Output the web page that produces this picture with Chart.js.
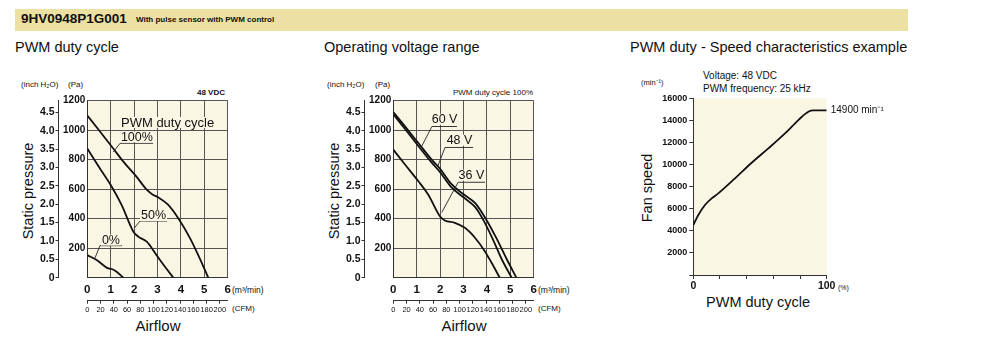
<!DOCTYPE html>
<html>
<head>
<meta charset="utf-8">
<script src="https://cdn.jsdelivr.net/npm/chart.js@4.4.1/dist/chart.umd.min.js"></script>
<style>
body { margin: 0; width: 1000px; height: 345px; position: relative; overflow: hidden; background: #fff;
       font-family: 'Liberation Sans', Arial, sans-serif; color: #111; }
.t { position: absolute; white-space: nowrap; line-height: 1; transform: translateY(-50%); }
.c { transform: translate(-50%, -50%); }
.r { transform: translate(-100%, -50%); }
.v { transform: translate(-50%, -50%) rotate(-90deg); }
canvas { position: absolute; }
.band { position: absolute; left: 15px; top: 9px; width: 893px; height: 22px; background: #ece0a2; }
</style>
</head>
<body>
<div class="band"></div>
<div class="t" style="left:21px;top:19px;font-size:13.5px;font-weight:bold">9HV0948P1G001</div>
<div class="t" style="left:136px;top:20px;font-size:8px;font-weight:bold">With pulse sensor with PWM control</div>

<div class="t" style="left:15px;top:47px;font-size:14.5px">PWM duty cycle</div>
<div class="t" style="left:324px;top:47px;font-size:14.5px">Operating voltage range</div>
<div class="t" style="left:630px;top:47px;font-size:14.5px">PWM duty - Speed characteristics example</div>

<!-- chart 1 texts -->
<div class="t" style="left:21px;top:85px;font-size:8px">(inch H₂O)</div>
<div class="t" style="left:68px;top:85px;font-size:8px">(Pa)</div>
<div class="t r" style="left:225px;top:93px;font-size:8px;font-weight:bold">48 VDC</div>
<div class="t v" style="left:28px;top:191px;font-size:14.5px">Static pressure</div>
<div class="t" style="left:232px;top:290px;font-size:8.5px">(m³/min)</div>
<div class="t" style="left:232px;top:309px;font-size:8px">(CFM)</div>
<div class="t c" style="left:158px;top:325px;font-size:15px">Airflow</div>

<!-- chart 2 texts -->
<div class="t" style="left:327px;top:85px;font-size:8px">(inch H₂O)</div>
<div class="t" style="left:375px;top:85px;font-size:8px">(Pa)</div>
<div class="t r" style="left:533px;top:93px;font-size:8px">PWM duty cycle 100%</div>
<div class="t v" style="left:334px;top:191px;font-size:14.5px">Static pressure</div>
<div class="t" style="left:538px;top:290px;font-size:8.5px">(m³/min)</div>
<div class="t" style="left:538px;top:309px;font-size:8px">(CFM)</div>
<div class="t c" style="left:464px;top:325px;font-size:15px">Airflow</div>

<!-- chart 3 texts -->
<div class="t" style="left:641px;top:83px;font-size:7.5px">(min⁻¹)</div>
<div class="t" style="left:703px;top:76px;font-size:10px">Voltage: 48 VDC</div>
<div class="t" style="left:703px;top:89px;font-size:10px">PWM frequency: 25 kHz</div>
<div class="t v" style="left:647px;top:188px;font-size:14.5px">Fan speed</div>
<div class="t" style="left:838px;top:287px;font-size:7px">(%)</div>
<div class="t c" style="left:758px;top:302px;font-size:14.5px">PWM duty cycle</div>

<canvas id="dutyChart" width="290" height="255" style="left:0px;top:90px"></canvas>
<canvas id="voltChart" width="290" height="255" style="left:306px;top:90px"></canvas>
<canvas id="speedChart" width="300" height="255" style="left:600px;top:90px"></canvas>

<script>
// --- Data ---
const M3_TO_CFM = 35.3147;
const PA_PER_INCH = 249.089;

// PWM duty cycle (48 VDC): airflow m3/min vs static pressure Pa
const flowDuty100 = [0, 0.5, 1.1, 1.55, 2.1, 2.55, 2.8, 3.0, 3.45, 3.9, 4.4, 4.8, 5.17];
const presDuty100 = [1100, 1000, 878, 785, 685, 595, 563, 548, 495, 400, 265, 132, 0];
const flowDuty50 = [0, 0.54, 1.0, 1.47, 1.97, 2.18, 2.54, 2.96, 3.32, 3.68];
const presDuty50 = [876, 740, 628, 492, 312, 278, 244, 153, 74, 0];
const flowDuty0 = [0, 0.4, 0.9, 1.04, 1.25, 1.54];
const presDuty0 = [153, 120, 63, 59, 41, 0];

// Operating voltage range (PWM 100%)
const flow60V = [0, 0.5, 1.07, 1.64, 2.0, 2.5, 3.0, 3.5, 3.95, 4.4, 4.85, 5.26];
const pres60V = [1123, 1026, 913, 800, 738, 632, 566, 505, 400, 270, 125, 0];
const flow48V = [0, 0.5, 1.07, 1.64, 2.0, 2.5, 3.0, 3.5, 3.85, 4.25, 4.65, 5.06];
const pres48V = [1108, 1008, 893, 780, 715, 610, 545, 478, 390, 262, 120, 0];
const flow36V = [0, 0.5, 1.07, 1.49, 1.99, 2.2, 2.63, 3.06, 3.49, 3.91, 4.2, 4.55];
const pres36V = [868, 767, 654, 564, 417, 388, 372, 338, 271, 180, 101, 0];

// PWM duty - speed
const dutyPct = [0, 3.75, 8.75, 13.75, 18.75, 31.25, 43.75, 56.25, 68.75, 78.75, 86.25, 90, 100];
const fanSpeed = [4525, 5430, 6335, 6938, 7390, 8748, 10166, 11463, 12820, 14027, 14781, 14900, 14900];

const SANS = "'Liberation Sans', Arial, sans-serif";
const CREAM = '#faf6e4';
const GRID = '#555';

const pts = (xs, ys) => xs.map((x, i) => ({ x, y: ys[i] }));

// cream plot area + leader lines and curve labels
const calloutPlugin = {
    id: 'callouts',
    beforeDraw(chart) {
        const { ctx, chartArea: a } = chart;
        ctx.save();
        ctx.fillStyle = CREAM;
        ctx.fillRect(a.left, a.top, a.right - a.left, a.bottom - a.top);
        ctx.restore();
    },
    afterDatasetsDraw(chart, args, opts) {
        const { ctx, scales: { x, y } } = chart;
        ctx.save();
        ctx.strokeStyle = '#222';
        ctx.lineWidth = 0.9;
        (opts.leaders || []).forEach(line => {
            ctx.beginPath();
            line.forEach(([a, b], i) => {
                const px = x.getPixelForValue(a), py = y.getPixelForValue(b);
                i ? ctx.lineTo(px, py) : ctx.moveTo(px, py);
            });
            ctx.stroke();
        });
        (opts.labels || []).forEach(l => {
            ctx.font = l.font;
            ctx.textAlign = l.align || 'center';
            ctx.textBaseline = 'middle';
            const px = x.getPixelForValue(l.x) + (l.dx || 0), py = y.getPixelForValue(l.y);
            if (l.box) {
                const w = ctx.measureText(l.text).width;
                const left = l.align === 'left' ? px : px - w / 2;
                ctx.fillStyle = CREAM;
                ctx.fillRect(left - 1, py - 6, w + 2, 11);
            }
            ctx.fillStyle = '#111';
            ctx.fillText(l.text, px, py);
        });
        ctx.restore();
    }
};

function pressureChart(id, series, callouts) {
    return new Chart(document.getElementById(id), {
        type: 'line',
        data: {
            datasets: series.map(s => ({
                data: pts(s[0], s[1]),
                borderColor: '#111',
                borderWidth: 1.8,
                pointRadius: 0,
                fill: false,
                cubicInterpolationMode: 'monotone'
            }))
        },
        options: {
            responsive: false,
            animation: false,
            layout: { padding: { left: 10, top: 10.7, right: 62.3, bottom: 14.3 } },
            plugins: { legend: { display: false }, tooltip: { enabled: false }, callouts },
            scales: {
                x: {
                    type: 'linear', min: 0, max: 6,
                    ticks: { stepSize: 1, color: '#111', padding: 5, maxRotation: 0,
                             font: { family: SANS, size: 11.5, weight: 'bold' } },
                    grid: { color: GRID, drawTicks: false },
                    border: { color: '#333' },
                    afterFit: s => { s.height = 23; }
                },
                xCfm: {
                    type: 'linear', position: 'bottom', min: 0, max: 6 * M3_TO_CFM,
                    ticks: { stepSize: 20, includeBounds: false, autoSkip: false, maxRotation: 0, minRotation: 0,
                             color: '#111', padding: 2, font: { family: SANS, size: 7.5 } },
                    grid: { drawOnChartArea: false, tickLength: 3, color: '#333' },
                    border: { color: '#333' },
                    afterFit: s => { s.height = 30; }
                },
                y: {
                    type: 'linear', min: 0, max: 1200,
                    ticks: { stepSize: 200, color: '#111', padding: 2, callback: v => v === 0 ? '' : v,
                             font: { family: SANS, size: 10, weight: 'bold' } },
                    grid: { color: GRID, drawTicks: false },
                    border: { color: '#333' },
                    afterFit: s => { s.width = 28.8; }
                },
                yInch: {
                    type: 'linear', position: 'left', min: 0, max: 1200 / PA_PER_INCH,
                    ticks: { stepSize: 0.5, includeBounds: false, color: '#111', padding: 1,
                             callback: v => v === 0 ? '0' : v.toFixed(1),
                             font: { family: SANS, size: 10.5, weight: 'bold' } },
                    grid: { drawOnChartArea: false, tickLength: 3, color: '#333' },
                    border: { color: '#333' },
                    afterFit: s => { s.width = 48.5; }
                }
            }
        },
        plugins: [calloutPlugin]
    });
}

const LABEL_FONT = "12.5px " + SANS;

pressureChart('dutyChart',
    [[flowDuty100, presDuty100], [flowDuty50, presDuty50], [flowDuty0, presDuty0]],
    {
        leaders: [
            [[1.11, 852], [1.40, 911], [2.81, 911]],
            [[2.01, 337], [2.25, 384], [3.41, 384]],
            [[0.33, 134], [0.54, 217], [1.48, 217]]
        ],
        labels: [
            { text: 'PWM duty cycle', x: 1.44, y: 1049, align: 'left', font: "13px " + SANS, box: true },
            { text: '100%', x: 2.12, y: 950, font: LABEL_FONT, box: true },
            { text: '50%', x: 2.83, y: 418, font: LABEL_FONT, box: true },
            { text: '0%', x: 1.01, y: 252, font: LABEL_FONT, box: true }
        ]
    });

pressureChart('voltChart',
    [[flow60V, pres60V], [flow48V, pres48V], [flow36V, pres36V]],
    {
        leaders: [
            [[1.21, 890], [1.65, 1025], [2.72, 1025]],
            [[1.90, 755], [2.21, 883], [3.41, 883]],
            [[2.07, 442], [2.77, 647], [3.92, 647]]
        ],
        labels: [
            { text: '60 V', x: 2.19, y: 1071, font: LABEL_FONT, box: true },
            { text: '48 V', x: 2.83, y: 929, font: LABEL_FONT, box: true },
            { text: '36 V', x: 3.34, y: 692, font: LABEL_FONT, box: true }
        ]
    });

new Chart(document.getElementById('speedChart'), {
    type: 'line',
    data: {
        datasets: [{
            data: pts(dutyPct, fanSpeed),
            borderColor: '#111',
            borderWidth: 1.8,
            pointRadius: 0,
            fill: false,
            cubicInterpolationMode: 'monotone'
        }]
    },
    options: {
        responsive: false,
        animation: false,
        layout: { padding: { left: 10, top: 8.3, right: 73.3, bottom: 45 } },
        plugins: {
            legend: { display: false }, tooltip: { enabled: false },
            callouts: {
                labels: [{ text: '14900 min⁻¹', x: 100, y: 14900, dx: 4, align: 'left',
                           font: "10px " + SANS }]
            }
        },
        scales: {
            x: {
                type: 'linear', min: 0, max: 100,
                ticks: { stepSize: 20, color: '#111', padding: 1, maxRotation: 0,
                         callback: v => (v === 0 || v === 100) ? v : '',
                         font: { family: SANS, size: 10.5, weight: 'bold' } },
                grid: { drawOnChartArea: false, tickLength: 4, color: '#333' },
                border: { color: '#333' },
                afterFit: s => { s.height = 25; }
            },
            y: {
                type: 'linear', min: 0, max: 16000,
                ticks: { stepSize: 2000, color: '#111', padding: 2, callback: v => v === 0 ? '' : v,
                         font: { family: SANS, size: 9, weight: 'bold' } },
                grid: { drawOnChartArea: false, tickLength: 4, color: '#333' },
                border: { color: '#333' },
                afterFit: s => { s.width = 83.3; }
            }
        }
    },
    plugins: [calloutPlugin]
});
</script>
</body>
</html>
